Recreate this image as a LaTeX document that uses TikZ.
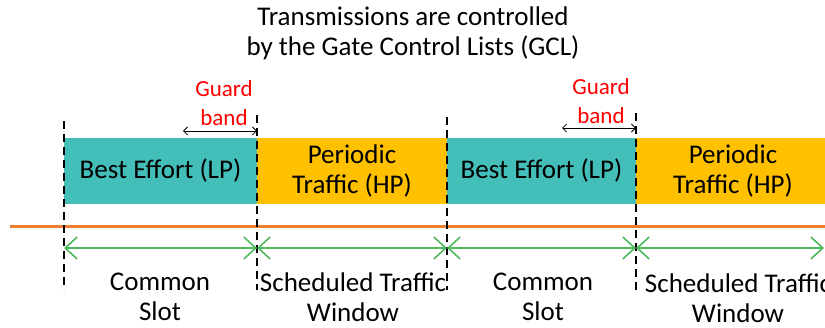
\documentclass[tikz,border=0pt]{standalone}
\usepackage{fontspec}
\setmainfont{Carlito}
\usetikzlibrary{arrows.meta}
\definecolor{lpcol}{RGB}{67,190,184}
\definecolor{hpcol}{RGB}{255,192,0}
\definecolor{linecol}{RGB}{237,125,49}
\definecolor{arrcol}{RGB}{80,184,92}
\definecolor{gbcol}{RGB}{255,0,0}
\tikzset{
  lpbox/.style={fill=lpcol, draw=none, minimum height=66pt, inner sep=0pt, align=center, font=\fontsize{27}{30}\selectfont},
  hpbox/.style={fill=hpcol, draw=none, minimum height=66pt, inner sep=0pt, align=center, font=\fontsize{27}{30}\selectfont},
  txt/.style={inner sep=0pt, align=center, font=\fontsize{27}{30}\selectfont},
  gbtxt/.style={inner sep=0pt, align=center, text=gbcol, font=\fontsize{23}{29}\selectfont},
  divider/.style={draw=black, line width=1.2pt, dash pattern=on 8pt off 5pt},
  slotarrow/.style={draw=arrcol, line width=1.6pt, {Straight Barb[length=12pt,width=22pt]}-{Straight Barb[length=12pt,width=22pt]}},
  gbarrow/.style={draw=black, line width=0.8pt, {Straight Barb[length=4pt,width=8pt]}-{Straight Barb[length=4pt,width=8pt]}},
  timeline/.style={draw=linecol, line width=3pt}
}
\begin{document}
\begin{tikzpicture}[x=1pt,y=-1pt]
\useasboundingbox (0,0) rectangle (825,328);
\clip (0,0) rectangle (825,328);
% title
\node[txt] (title) at (413,33) {Transmissions are controlled\\by the Gate Control Lists (GCL)};
% boxes
\node[lpbox, minimum width=193pt] (b1) at (160.5,171) {Best Effort (LP)};
\node[hpbox, minimum width=190pt] (b2) at (352,171) {Periodic\\Traffic (HP)};
\node[lpbox, minimum width=189pt] (b3) at (541.5,171) {Best Effort (LP)};
\node[hpbox, minimum width=194pt] (b4) at (733,171) {Periodic\\Traffic (HP)};
% guard band labels
\node[gbtxt] (g1) at (224,103) {Guard\\band};
\node[gbtxt] (g2) at (601,101) {Guard\\band};
% timeline
\coordinate (tl0) at (10,227);
\coordinate (tl1) at (826,227);
\draw[timeline] (tl0) -- (tl1);
% dividers
\coordinate (d1t) at (64,121); \coordinate (d1b) at (64,290);
\coordinate (d2t) at (257,115); \coordinate (d2b) at (257,290);
\coordinate (d3t) at (447,117); \coordinate (d3b) at (447,290);
\coordinate (d4t) at (636,113); \coordinate (d4b) at (636,290);
\draw[divider] (d1t) -- (d1b);
\draw[divider] (d2t) -- (d2b);
\draw[divider] (d3t) -- (d3b);
\draw[divider] (d4t) -- (d4b);
% guard band arrows
\coordinate (gs1) at (183,131); \coordinate (ge1) at (257,131);
\coordinate (gs2) at (562,128); \coordinate (ge2) at (636,128);
\draw[gbarrow] (gs1) -- (ge1);
\draw[gbarrow] (gs2) -- (ge2);
% slot arrows
\coordinate (a0) at (64,248); \coordinate (a1) at (257,248);
\coordinate (a2) at (447,248); \coordinate (a3) at (636,248);
\coordinate (a4) at (824,248);
\draw[slotarrow] (a0) -- (a1);
\draw[slotarrow] (a1) -- (a2);
\draw[slotarrow] (a2) -- (a3);
\draw[slotarrow] (a3) -- (a4);
% bottom labels
\node[txt] (l1) at (160,297) {Common\\Slot};
\node[txt] (l2) at (353,297) {Scheduled Traffic\\Window};
\node[txt] (l3) at (543,297) {Common\\Slot};
\node[txt] (l4) at (738,298) {Scheduled Traffic\\Window};
\end{tikzpicture}
\end{document}
